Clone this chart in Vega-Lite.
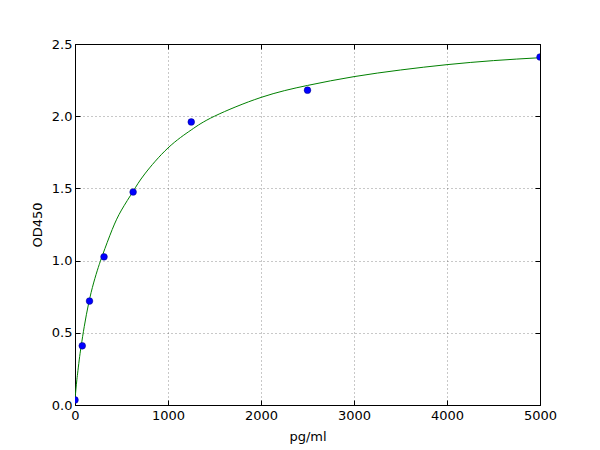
{
  "$schema": "https://vega.github.io/schema/vega-lite/v6.json",
  "width": 465,
  "height": 361,
  "autosize": "none",
  "padding": {"left": 75, "top": 44, "right": 60, "bottom": 45},
  "background": "white",
  "config": {
    "view": {"stroke": "black", "strokeWidth": 1},
    "font": "DejaVu Sans",
    "axis": {
      "labelFont": "DejaVu Sans",
      "titleFont": "DejaVu Sans",
      "labelFontSize": 13,
      "titleFontSize": 13,
      "titleFontWeight": "normal",
      "labelColor": "black",
      "titleColor": "black",
      "labelFlush": false,
      "labelOverlap": false,
      "domain": false,
      "tickColor": "black",
      "tickSize": -5,
      "gridColor": "black",
      "gridOpacity": 0.55,
      "gridDash": [1, 3],
      "gridWidth": 0.8
    }
  },
  "datasets": {
    "standards": [
      {"conc": 0, "od": 0.035},
      {"conc": 78, "od": 0.41},
      {"conc": 156, "od": 0.72},
      {"conc": 312, "od": 1.026},
      {"conc": 625, "od": 1.475},
      {"conc": 1250, "od": 1.96},
      {"conc": 2500, "od": 2.18},
      {"conc": 5000, "od": 2.41}
    ],
    "fit": [
      {"conc": 0, "od": 0.035},
      {"conc": 10, "od": 0.11},
      {"conc": 20, "od": 0.175},
      {"conc": 32, "od": 0.24},
      {"conc": 50, "od": 0.335},
      {"conc": 68, "od": 0.415},
      {"conc": 100, "od": 0.545},
      {"conc": 147, "od": 0.705},
      {"conc": 200, "od": 0.845},
      {"conc": 250, "od": 0.952},
      {"conc": 300, "od": 1.045},
      {"conc": 400, "od": 1.215},
      {"conc": 500, "od": 1.35},
      {"conc": 625, "od": 1.48},
      {"conc": 750, "od": 1.6},
      {"conc": 1000, "od": 1.78},
      {"conc": 1250, "od": 1.905},
      {"conc": 1500, "od": 2.0},
      {"conc": 2000, "od": 2.13},
      {"conc": 2500, "od": 2.213},
      {"conc": 3000, "od": 2.274},
      {"conc": 3500, "od": 2.32},
      {"conc": 4000, "od": 2.357},
      {"conc": 4500, "od": 2.385},
      {"conc": 5000, "od": 2.405}
    ]
  },
  "layer": [
    {
      "data": {"name": "fit"},
      "mark": {"type": "line", "color": "#008000", "strokeWidth": 1, "interpolate": "natural", "clip": true},
      "encoding": {
        "x": {
          "field": "conc", "type": "quantitative",
          "scale": {"domain": [0, 5000], "nice": false},
          "axis": {"orient": "top", "title": null, "labels": false, "grid": false, "values": [0, 1000, 2000, 3000, 4000, 5000]}
        },
        "y": {
          "field": "od", "type": "quantitative",
          "scale": {"domain": [0, 2.5], "nice": false},
          "axis": {"orient": "right", "title": null, "labels": false, "grid": false, "values": [0, 0.5, 1, 1.5, 2, 2.5]}
        }
      }
    },
    {
      "data": {"name": "standards"},
      "mark": {"type": "point", "filled": true, "shape": "circle", "size": 45, "color": "#0000ff", "opacity": 1, "stroke": "#00007f", "strokeWidth": 0.5, "clip": true},
      "encoding": {
        "x": {
          "field": "conc", "type": "quantitative",
          "scale": {"domain": [0, 5000], "nice": false},
          "axis": {"title": "pg/ml", "grid": true, "values": [0, 1000, 2000, 3000, 4000, 5000], "format": "d", "labelPadding": 9, "titlePadding": 8}
        },
        "y": {
          "field": "od", "type": "quantitative",
          "scale": {"domain": [0, 2.5], "nice": false},
          "axis": {"title": "OD450", "grid": true, "values": [0, 0.5, 1, 1.5, 2, 2.5], "format": ".1f", "labelPadding": 8, "titlePadding": 7}
        }
      }
    }
  ],
  "resolve": {"axis": {"x": "independent", "y": "independent"}}
}
